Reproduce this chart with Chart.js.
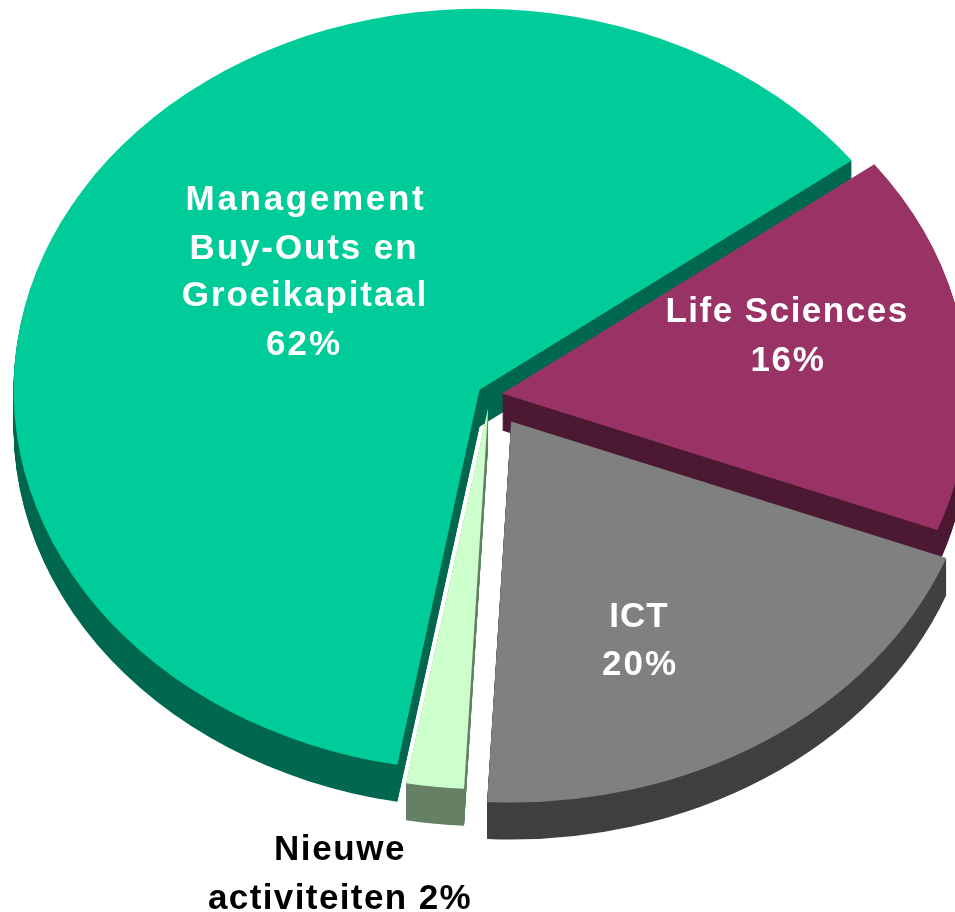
<!DOCTYPE html>
<html>
<head>
<meta charset="utf-8">
<style>html,body{margin:0;padding:0;background:#fff;overflow:hidden}canvas{display:block}</style>
<script src="https://cdn.jsdelivr.net/npm/chart.js@4"></script>
</head>
<body>
<canvas id="c" width="955" height="912"></canvas>
<script>
// Data: clockwise from the first slice after the start angle
const categories = ['Life Sciences', 'ICT', 'Nieuwe activiteiten', 'Management Buy-Outs en Groeikapitaal'];
const shares = [16.1, 20, 2, 61.9];
const topColours = ['#993366', '#808080', '#CCFFCC', '#00CC99'];
const sideColours = ['#4D1A33', '#404040', '#668066', '#006850'];
const explode = [12, 38, 16, 12];

const startAngle = 53;
const pieCentre = {x: 490, y: 395};
const radiusX = 466, radiusY = 381, depth = 37;

const labelFont = 'bold 35px "Liberation Sans", Arial, sans-serif';
const labels = [
  {text: 'Management', x: 306, y: 210, color: '#fff', spacing: 2.7},
  {text: 'Buy-Outs en', x: 304, y: 259, color: '#fff', spacing: 1.9},
  {text: 'Groeikapitaal', x: 305, y: 306, color: '#fff', spacing: 1.9},
  {text: '62%', x: 304, y: 355, color: '#fff', spacing: 2},
  {text: 'Life Sciences', x: 787, y: 322, color: '#fff', spacing: 1.5},
  {text: '16%', x: 788, y: 371, color: '#fff', spacing: 1.7},
  {text: 'ICT', x: 639, y: 627, color: '#fff', spacing: 1},
  {text: '20%', x: 640, y: 675, color: '#fff', spacing: 2},
  {text: 'Nieuwe', x: 340, y: 860, color: '#000', spacing: 1.6},
  {text: 'activiteiten 2%', x: 340, y: 909, color: '#000', spacing: 1.4}
];

function paintSlice(ctx, arc, i, colour, dy) {
  const sx = radiusX / arc.outerRadius, sy = radiusY / arc.outerRadius;
  const mid = (arc.startAngle + arc.endAngle) / 2;
  const ghost = Object.create(arc);
  ghost.options = {backgroundColor: colour, borderWidth: 0, offset: 0, spacing: 0,
                   borderRadius: 0, circular: true, borderAlign: 'center'};
  ctx.save();
  ctx.translate(pieCentre.x, pieCentre.y + dy);
  ctx.scale(sx, sy);
  ctx.translate(Math.cos(mid) * explode[i] - arc.x, Math.sin(mid) * explode[i] - arc.y);
  ghost.draw(ctx);
  ctx.restore();
}

const pie3d = {
  id: 'pie3d',
  beforeDatasetDraw(chart, args) {
    const ctx = chart.ctx;
    const arcs = args.meta.data;
    for (let d = depth; d >= 1; d--) {
      arcs.forEach((arc, i) => paintSlice(ctx, arc, i, sideColours[i], d));
    }
    [3, 2, 0, 1].forEach(i => paintSlice(ctx, arcs[i], i, topColours[i], 0));
    return false;
  },
  afterDatasetsDraw(chart) {
    const ctx = chart.ctx;
    ctx.save();
    ctx.font = labelFont;
    ctx.textAlign = 'center';
    ctx.textBaseline = 'alphabetic';
    labels.forEach(l => {
      ctx.letterSpacing = l.spacing + 'px';
      ctx.fillStyle = l.color;
      ctx.fillText(l.text, l.x, l.y);
    });
    ctx.restore();
  }
};

new Chart(document.getElementById('c'), {
  type: 'pie',
  data: {
    labels: categories,
    datasets: [{data: shares, backgroundColor: topColours, borderWidth: 0}]
  },
  options: {
    responsive: false,
    animation: false,
    rotation: startAngle,
    layout: {padding: 0},
    plugins: {legend: {display: false}, tooltip: {enabled: false}}
  },
  plugins: [pie3d]
});
</script>
</body>
</html>
